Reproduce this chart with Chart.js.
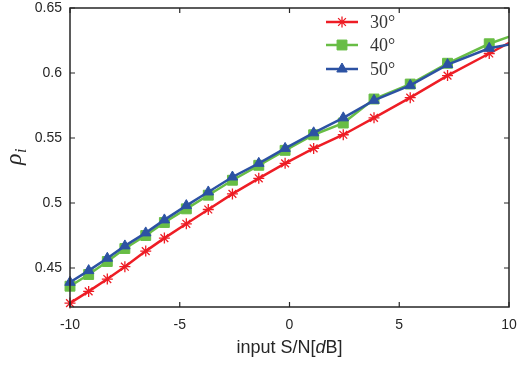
<!DOCTYPE html>
<html>
<head>
<meta charset="utf-8">
<script src="https://cdn.jsdelivr.net/npm/chart.js@4/dist/chart.umd.min.js"></script>
<style>
html,body{margin:0;padding:0;background:#fff;}
#wrap{width:520px;height:367px;position:relative;}
</style>
</head>
<body>
<div id="wrap"><canvas id="c" width="520" height="367"></canvas></div>
<script>
// ---- data ----
const snrDb = [-10, -9.15, -8.3, -7.5, -6.55, -5.7, -4.7, -3.7, -2.6, -1.4, -0.2, 1.1, 2.45, 3.85, 5.5, 7.2, 9.1, 11.2];
const rho30 = [0.423, 0.432, 0.4415, 0.451, 0.463, 0.473, 0.484, 0.495, 0.507, 0.519, 0.5305, 0.542, 0.5525, 0.5655, 0.581, 0.598, 0.615, 0.634];
const rho40 = [0.436, 0.445, 0.455, 0.465, 0.475, 0.485, 0.4955, 0.506, 0.5175, 0.529, 0.5405, 0.5525, 0.5615, 0.580, 0.5915, 0.6075, 0.6225, 0.635];
const rho50 = [0.439, 0.448, 0.4575, 0.467, 0.477, 0.487, 0.498, 0.5085, 0.520, 0.5305, 0.542, 0.554, 0.5655, 0.579, 0.5905, 0.6065, 0.619, 0.626];
const seriesLabels = ['30°', '40°', '50°'];
const xTicks = [-10, -5, 0, 5, 10];
const yTicks = [0.45, 0.5, 0.55, 0.6, 0.65];
const xRange = [-10, 10];
const yRange = [0.42, 0.65];

const RED = '#ee1d25', GREEN = '#68bd45', BLUE = '#2c52a3';
const AX = '#262626';

function pts(xs, ys){ return xs.map((x,i)=>({x:x, y:ys[i]})); }

const clipBox = {left: 8, right: 0, top: 0, bottom: 8};

const datasets = [
  {label: seriesLabels[0], data: pts(snrDb, rho30), borderColor: RED, backgroundColor: RED,
   pointStyle: 'star', pointRadius: 5.5, pointBorderWidth: 1.3, borderWidth: 2.5, order: 2, clip: clipBox},
  {label: seriesLabels[1], data: pts(snrDb, rho40), borderColor: GREEN, backgroundColor: GREEN,
   pointStyle: 'rect', pointRadius: 7, pointBorderWidth: 1, borderWidth: 2.5, order: 1, clip: clipBox},
  {label: seriesLabels[2], data: pts(snrDb, rho50), borderColor: BLUE, backgroundColor: BLUE,
   pointStyle: 'triangle', pointRadius: 6, pointBorderWidth: 1, borderWidth: 2.5, order: 0, clip: clipBox}
];

const framePlugin = {
  id: 'frame',
  afterDraw(chart){
    const ctx = chart.ctx, a = chart.chartArea;
    const xs = chart.scales.x, ys = chart.scales.y;
    ctx.save();
    ctx.strokeStyle = AX;
    ctx.lineWidth = 1.5;
    ctx.strokeRect(a.left, a.top, a.right - a.left, a.bottom - a.top);
    ctx.lineWidth = 1.2;
    const tl = 5;
    ctx.beginPath();
    xTicks.forEach(v=>{
      const px = xs.getPixelForValue(v);
      ctx.moveTo(px, a.bottom); ctx.lineTo(px, a.bottom - tl);
      ctx.moveTo(px, a.top); ctx.lineTo(px, a.top + tl);
    });
    yTicks.forEach(v=>{
      const py = ys.getPixelForValue(v);
      ctx.moveTo(a.left, py); ctx.lineTo(a.left + tl, py);
      ctx.moveTo(a.right, py); ctx.lineTo(a.right - tl, py);
    });
    ctx.stroke();

    // x title: input S/N[dB] with italic d
    const cx = (a.left + a.right) / 2, ty = 348;
    const f1 = '18px "Liberation Sans", Arial, sans-serif';
    const f2 = 'italic 18px "Liberation Sans", Arial, sans-serif';
    const parts = [['input S/N[', f1], ['d', f2], ['B]', f1]];
    let total = 0;
    parts.forEach(p=>{ ctx.font = p[1]; total += ctx.measureText(p[0]).width; });
    let x0 = cx - total / 2;
    ctx.fillStyle = AX;
    ctx.textBaseline = 'middle';
    ctx.textAlign = 'left';
    parts.forEach(p=>{ ctx.font = p[1]; ctx.fillText(p[0], x0, ty); x0 += ctx.measureText(p[0]).width; });

    // y title: rho_i rotated
    ctx.save();
    ctx.translate(21, 165);
    ctx.rotate(-Math.PI / 2);
    ctx.textBaseline = 'alphabetic';
    ctx.font = 'italic 24px "Liberation Serif", "DejaVu Serif", serif';
    ctx.fillText('ρ', 0, 0);
    const w = ctx.measureText('ρ').width;
    ctx.font = 'italic 16px "Liberation Serif", "DejaVu Serif", serif';
    ctx.fillText('i', w + 0.5, 5);
    ctx.restore();

    // legend
    const rows = [22, 45, 69];
    chart.data.datasets.forEach((ds, i)=>{
      const y = rows[i];
      ctx.strokeStyle = ds.borderColor;
      ctx.lineWidth = ds.borderWidth;
      ctx.beginPath(); ctx.moveTo(326, y); ctx.lineTo(358, y); ctx.stroke();
      ctx.fillStyle = ds.backgroundColor;
      ctx.lineWidth = ds.pointBorderWidth;
      Chart.helpers.drawPoint(ctx, {pointStyle: ds.pointStyle, radius: ds.pointRadius, rotation: 0, borderWidth: ds.pointBorderWidth}, 342, y);
      ctx.fillStyle = '#333';
      ctx.font = '18px "Liberation Serif", "DejaVu Serif", serif';
      ctx.textBaseline = 'middle';
      ctx.fillText(ds.label, 370, y + 1);
    });
    ctx.restore();
  }
};

new Chart(document.getElementById('c'), {
  type: 'line',
  data: {datasets: datasets},
  options: {
    responsive: false,
    animation: false,
    events: [],
    layout: {padding: {top: 6, right: 11, left: 0, bottom: 0}},
    plugins: {legend: {display: false}, tooltip: {enabled: false}},
    scales: {
      x: {
        type: 'linear', min: xRange[0], max: xRange[1],
        afterBuildTicks(s){ s.ticks = xTicks.map(v=>({value: v})); },
        afterFit(s){ s.height = 60; s.paddingLeft = 0; s.paddingRight = 0; },
        grid: {display: false, drawTicks: false},
        border: {display: false},
        ticks: {color: AX, padding: 10, maxRotation: 0, font: {family: '"Liberation Sans", Arial, sans-serif', size: 14}}
      },
      y: {
        type: 'linear', min: yRange[0], max: yRange[1],
        afterBuildTicks(s){ s.ticks = yTicks.map(v=>({value: v})); },
        afterFit(s){ s.width = 70; s.paddingTop = 0; s.paddingBottom = 0; },
        grid: {display: false, drawTicks: false},
        border: {display: false},
        ticks: {color: AX, padding: 8, font: {family: '"Liberation Sans", Arial, sans-serif', size: 14},
                callback: v => String(Math.round(v * 100) / 100)}
      }
    }
  },
  plugins: [framePlugin]
});
</script>
</body>
</html>
